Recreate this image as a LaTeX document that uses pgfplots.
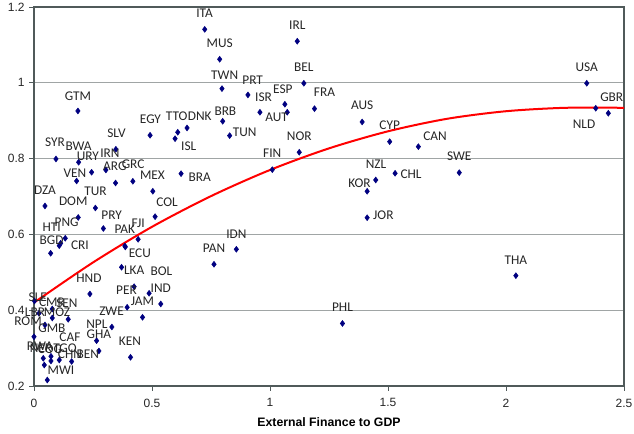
\documentclass[border=0pt]{standalone}
\usepackage{pgfplots}
\usepackage{pgfplotstable}
\usepackage{fontspec}
\setmainfont{Liberation Sans}
\newfontfamily\calib{Carlito}
\pgfplotsset{compat=1.18}
\definecolor{dotblue}{RGB}{0,0,128}
\definecolor{gridgray}{RGB}{160,165,165}
\definecolor{framegray}{RGB}{80,90,90}
\pgfplotstableread{
name x y lx ly
ITA 0.7234 1.141 0.723 1.184
IRL 1.1155 1.1097 1.1155 1.1527
MUS 0.7868 1.0622 0.7868 1.1052
BEL 1.1434 0.9988 1.1434 1.0418
TWN 0.7965 0.9846 0.8079 1.0207
PRT 0.9065 0.968 0.9264 1.0075
ISR 0.9573 0.9223 0.9729 0.9627
ESP 1.063 0.9434 1.0545 0.9838
AUT 1.0731 0.9223 1.0279 0.9099
FRA 1.1886 0.9318 1.2309 0.9759
BRB 0.7995 0.8985 0.8109 0.9239
TUN 0.8291 0.8606 0.8925 0.8685
TTO 0.6091 0.8695 0.6049 0.9125
DNK 0.6485 0.8809 0.7022 0.9125
ISL 0.5977 0.8526 0.6557 0.8334
EGY 0.4919 0.8616 0.4934 0.9038
SLV 0.3469 0.8246 0.3497 0.8669
IRN 0.3046 0.77 0.3215 0.8141
ARG 0.3456 0.7357 0.3426 0.7787
GRC 0.4188 0.7402 0.42 0.7851
SYR 0.0931 0.799 0.0888 0.8421
BWA 0.1891 0.7903 0.189 0.8334
URY 0.2441 0.764 0.2284 0.8057
VEN 0.1806 0.741 0.1734 0.7621
MEX 0.5034 0.7138 0.5020 0.7555
BRA 0.6231 0.7603 0.7022 0.7508
COL 0.5131 0.6468 0.5639 0.6837
DZA 0.0465 0.675 0.0465 0.7172
TUR 0.2601 0.6697 0.2609 0.7146
DOM 0.1874 0.6447 0.1662 0.6882
PRY 0.294 0.6156 0.3287 0.65
PNG 0.1324 0.5898 0.1383 0.6328
HTI 0.1129 0.5766 0.0749 0.6196
CRI 0.107 0.5703 0.1946 0.5721
BGD 0.0706 0.5502 0.0749 0.5853
PAK 0.3849 0.5695 0.3849 0.6135
FJI 0.4412 0.5871 0.4412 0.6294
ECU 0.387 0.567 0.4484 0.5497
LKA 0.371 0.5133 0.4243 0.5043
BOL 0.4877 0.4446 0.5402 0.5016
PER 0.4243 0.4621 0.3921 0.4533
IND 0.5372 0.4164 0.5372 0.4578
JAM 0.4598 0.3813 0.4598 0.4243
ZWE 0.3947 0.4077 0.3287 0.3979
HND 0.2369 0.4428 0.2327 0.485
NPL 0.3299 0.3557 0.2665 0.3636
GHA 0.2652 0.3195 0.275 0.3372
KEN 0.409 0.2757 0.4061 0.3174
FIN 1.0097 0.7708 1.0097 0.8141
NOR 1.1239 0.8167 1.1239 0.8598
IDN 0.8574 0.5608 0.8574 0.6011
PAN 0.7627 0.5212 0.7627 0.5623
PHL 1.307 0.365 1.307 0.4077
AUS 1.3904 0.8967 1.3904 0.9416
CYP 1.5071 0.8447 1.5071 0.888
CAN 1.6286 0.8315 1.6992 0.8579
NZL 1.448 0.7436 1.4494 0.7859
CHL 1.53 0.7613 1.5977 0.7595
KOR 1.4116 0.7138 1.379 0.7349
JOR 1.4116 0.6441 1.4805 0.6494
SWE 1.802 0.7629 1.802 0.8051
THA 2.0418 0.4911 2.0418 0.5325
USA 2.3422 0.9988 2.3422 1.041
GBR 2.4335 0.9197 2.4479 0.9608
NLD 2.3802 0.9329 2.3307 0.8914
GTM 0.1861 0.9257 0.1861 0.9653
SLE 0.002 0.4243 0.0159 0.4349
CMR 0.0211 0.3919 0.0761 0.4217
SEN 0.0774 0.4032 0.1396 0.4191
LBR 0.0774 0.3795 0.0042 0.3946
MOZ 0.145 0.376 0.0973 0.3946
ROM 0.0465 0.361 -0.0254 0.3715
GMB 0.0 0.330 0.0761 0.3515
RWA 0.0393 0.2731 0.0254 0.3055
CAF 0.0719 0.2784 0.1523 0.3293
NER 0.0436 0.2554 0.0296 0.3002
COG 0.0719 0.266 0.0677 0.2976
TGO 0.107 0.2686 0.1311 0.3002
CHN 0.1595 0.2647 0.1523 0.2845
BEN 0.275 0.2924 0.2284 0.2845
MWI 0.0563 0.2158 0.1142 0.2409
}\datatable
\pgfplotstableread{
x y
0.00 0.420
0.25 0.526
0.50 0.620
0.75 0.701
1.00 0.770
1.25 0.827
1.50 0.872
1.75 0.905
2.00 0.925
2.25 0.934
2.50 0.934
}\trendtable
\begin{document}
\begin{tikzpicture}
\begin{axis}[
  scale only axis,
  width=442.5pt, height=284.25pt,
  xmin=0, xmax=2.5, ymin=0.2, ymax=1.2,
  xtick={0,0.5,1,1.5,2,2.5},
  ytick={0.2,0.4,0.6,0.8,1,1.2},
  xticklabels={0,0.5,1,1.5,2,2.5},
  yticklabels={0.2,0.4,0.6,0.8,1,1.2},
  ymajorgrids,
  grid style={gridgray, line width=0.8pt},
  axis line style={framegray, line width=0.9pt},
  tick style={framegray, line width=0.6pt},
  tick align=outside,
  major tick length=3.5pt,
  xtick pos=bottom, ytick pos=left,
  tick label style={font=\fontsize{9}{10}\selectfont, text=black!85},
  xticklabel style={yshift=-2.5pt},
  xlabel={\textbf{External Finance to GDP}},
  xlabel style={at={(rel axis cs:0.5,0)}, anchor=center, yshift=-27pt, font=\fontsize{9.2}{11}\selectfont},
  clip=false,
]
\coordinate (ll) at (rel axis cs:0,0);
\coordinate (ur) at (rel axis cs:1,1);
\addplot[red, line width=1.5pt, smooth, no markers] table[x=x,y=y]{\trendtable};
\addplot[only marks, mark=diamond*, mark size=2.2pt, color=dotblue] table[x=x,y=y]{\datatable};
\addplot[only marks, mark=none, nodes near coords, point meta=explicit symbolic,
  nodes near coords style={anchor=center, inner sep=0pt, font=\calib\fontsize{10}{12}\selectfont, text=black!85}]
  table[x=lx,y=ly,meta=name]{\datatable};
\end{axis}
\pgfresetboundingbox
\path[use as bounding box] ([shift={(-25.5pt,-35.25pt)}]ll) rectangle ([shift={(7.5pt,5.25pt)}]ur);
\end{tikzpicture}
\end{document}
